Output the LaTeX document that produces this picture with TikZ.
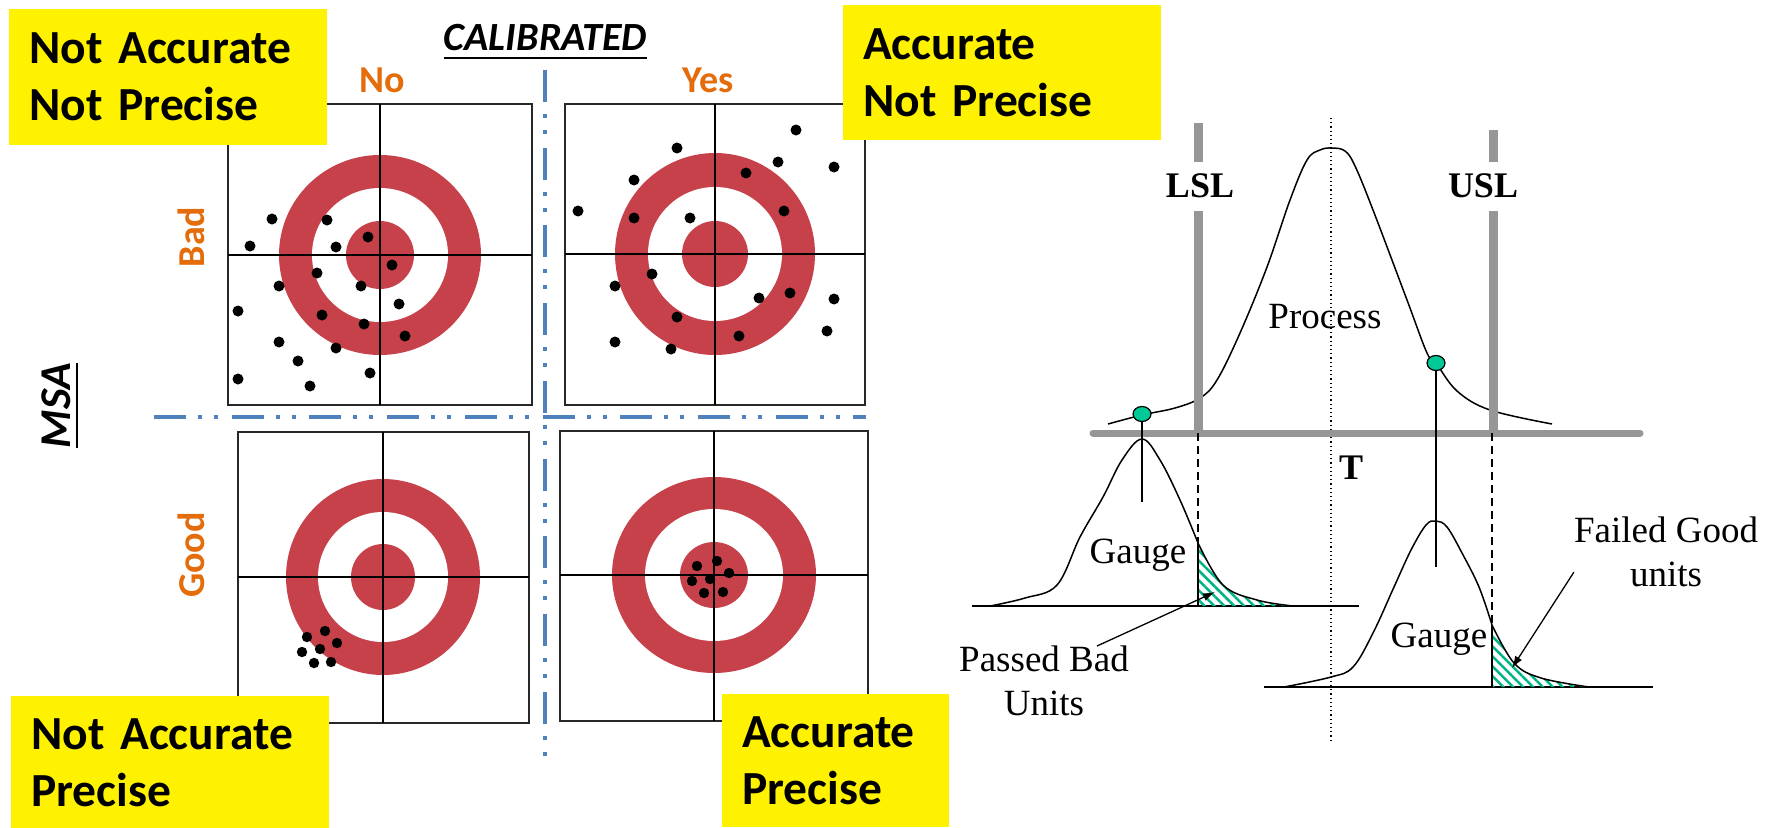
\documentclass[tikz,border=0pt]{standalone}
\usepackage{fontspec}
\newfontfamily\calfont{Carlito}
\newfontfamily\tmsfont{Liberation Serif}
\usetikzlibrary{patterns.meta,arrows.meta}
\definecolor{tred}{RGB}{198,65,74}
\definecolor{torange}{RGB}{228,108,10}
\definecolor{tblue}{RGB}{79,129,189}
\definecolor{tgray}{RGB}{150,150,150}
\definecolor{tgreen}{RGB}{0,200,150}
\definecolor{thatch}{RGB}{0,180,135}
\definecolor{tbox}{RGB}{40,40,40}
\newcommand\mytarget[8]{%
  \fill[tred] (#1,#2) ellipse [x radius=#3, y radius=#4];
  \fill[white] (#1,#2) ellipse [x radius=#5, y radius=#6];
  \fill[tred] (#1,#2) ellipse [x radius=#7, y radius=#8];
}
\tikzset{
  tbframe/.style={draw=tbox, line width=2pt},
  cross/.style={draw=black, line width=1.5pt},
  shot/.style={fill=black},
  dashdot/.style={draw=tblue, line width=3.5pt,
    dash pattern=on 32pt off 12pt on 4pt off 12pt on 4pt off 13.7pt},
  ybox/.style={fill=yellow, anchor=north west, inner xsep=20pt, inner ysep=0pt,
    align=left, font=\calfont\bfseries\fontsize{47.5}{57}\selectfont},
  olbl/.style={text=torange, inner sep=0pt, font=\calfont\bfseries\fontsize{38}{44}\selectfont},
  hlbl/.style={inner sep=0pt, font=\calfont\bfseries\itshape\fontsize{40}{48}\selectfont},
  slbl/.style={inner sep=0pt, font=\tmsfont\bfseries\fontsize{36}{42}\selectfont},
  rlbl/.style={inner sep=0pt, font=\tmsfont\fontsize{37}{44}\selectfont, align=center},
  curve/.style={draw=black, line width=1.5pt, line join=round},
  gbar/.style={draw=tgray, line width=9pt},
  gaxis/.style={draw=tgray, line width=7pt, line cap=round},
  ddash/.style={draw=black, line width=1.5pt, dash pattern=on 8pt off 5pt},
  hatchfill/.style={pattern={Lines[angle=-45,distance=7pt,line width=2.5pt]}, pattern color=thatch},
  gdot/.style={fill=tgreen, draw=black, line width=1.2pt},
  arr/.style={draw=black, line width=1.3pt, -{Latex[length=12pt,width=8pt]}}
}
\begin{document}
\begin{tikzpicture}[x=1pt,y=-1pt]
\useasboundingbox (0,0) rectangle (1776,827);
\fill[white] (0,0) rectangle (1776,827);

% ---------- targets ----------
\mytarget{380}{255}{101}{100}{68}{67}{34}{34}
\draw[tbframe] (227.5,104) rectangle (532,405);
\draw[cross] (380,104) -- (380,405) (227.5,255) -- (532,255);
\foreach \p in {(272,219),(327,220),(250,246),(336,247),(368,237),(392,265),(317,273),(279,286),(361,286),(238,311),(399,304),(322,315),(364,324),(405,336),(279,342),(336,348),(298,361),(238,379),(370,373),(310,386)}
  \fill[shot] \p circle[radius=5.5];

\mytarget{715}{254}{100}{101}{67}{67}{33}{33}
\draw[tbframe] (565,104) rectangle (865,405);
\draw[cross] (715,104) -- (715,405) (565,254) -- (865,254);
\foreach \p in {(796,130),(677,148),(778,162),(834,167),(634,180),(746,173),(578,211),(634,218),(690,218),(784,211),(652,274),(615,286),(790,293),(759,298),(834,299),(677,317),(827,331),(739,336),(615,342),(671,349)}
  \fill[shot] \p circle[radius=5.5];

\mytarget{383}{577}{97}{98}{65}{65}{32}{33}
\draw[tbframe] (237.5,432) rectangle (529,723);
\draw[cross] (383,432) -- (383,723) (237.5,577) -- (529,577);
\foreach \p in {(307,637),(325,631),(337,643),(320,649),(302,652),(314,663),(331,662)}
  \fill[shot] \p circle[radius=5.2];

\mytarget{714}{575}{102}{98}{69}{66}{34}{33}
\draw[tbframe] (560,431) rectangle (868,721);
\draw[cross] (714,431) -- (714,721) (560,575) -- (868,575);
\foreach \p in {(697,566),(717,561),(729,573),(710,579),(692,581),(704,593),(723,592)}
  \fill[shot] \p circle[radius=5.2];

% ---------- dash-dot separators ----------
\draw[dashdot] (545,70) -- (545,756);
\draw[dashdot] (154,417) -- (866,417);

% ---------- headings ----------
\node[hlbl, anchor=base] (cal) at (545.5,50) {CALIBRATED};
\draw[line width=2.5pt] ([yshift=-8pt]cal.base west) -- ([yshift=-8pt]cal.base east);
\node[hlbl, font=\calfont\bfseries\itshape\fontsize{44}{50}\selectfont, rotate=90, anchor=base] (msa) at (70,405.5) {MSA};
\draw[line width=2.5pt] ([xshift=7pt]msa.base west) -- ([xshift=7pt]msa.base east);
\node[olbl, anchor=base] (no) at (382,92) {No};
\node[olbl, anchor=base] (yes) at (708,92) {Yes};
\node[olbl, rotate=90, anchor=base] (bad) at (204,237) {Bad};
\node[olbl, rotate=90, anchor=base] (good) at (204,555) {Good};

% ---------- yellow labels ----------
\node[ybox, text width=278pt, minimum height=136pt] (y1) at (9,9) {Not Accurate\\Not Precise};
\node[ybox, text width=278pt, minimum height=135pt] (y2) at (843,5) {Accurate\\Not Precise};
\node[ybox, text width=278pt, minimum height=133pt] (y3) at (11,696) {Not Accurate\\Precise};
\node[ybox, text width=187pt, minimum height=133pt] (y4) at (722,694) {Accurate\\Precise};

% ---------- right: process / gauge ----------
\draw[line width=1.2pt, dash pattern=on 1.2pt off 3pt] (1331,118) -- (1331,742);
\draw[curve] plot[smooth, tension=0.6] coordinates {(1108,424) (1142,415) (1175,408) (1200,398) (1217,380) (1240,333) (1267,267) (1290,200) (1307,160) (1320,150) (1332,148) (1345,151) (1355,166) (1373,210) (1407,300) (1427,353) (1436,363) (1457,391) (1490,410) (1552,424)};
\draw[gbar] (1198,123) -- (1198,162) (1198,211) -- (1198,433);
\draw[gbar] (1493,130) -- (1493,162) (1493,211) -- (1493,433);
\draw[gaxis] (1093,433) -- (1640,433);
\node[slbl, anchor=base] (lsl) at (1200,197) {LSL};
\node[slbl, anchor=base] (usl) at (1483,197) {USL};
\node[slbl, anchor=base west] (tgt) at (1339,479) {T};
\node[rlbl, anchor=base] (proc) at (1325,328) {Process};

% left gauge
\draw[curve] (972,606) -- (1359,606);
\fill[hatchfill] plot[smooth, tension=0.6] coordinates {(1198,543) (1223,585) (1257,600) (1293,606)} -- (1198,606) -- cycle;
\draw[curve] plot[smooth, tension=0.6] coordinates {(990,606) (1025,598) (1057,585) (1080,537) (1103,497) (1122,460) (1142,439) (1160,460) (1180,500) (1198,543)};
\draw[curve] plot[smooth, tension=0.6] coordinates {(1198,543) (1223,585) (1257,600) (1293,606)};
\draw[curve] (1198,543) -- (1198,606);
\draw[ddash] (1198,433) -- (1198,543);
\draw[curve] (1142,414) -- (1142,502);
\fill[gdot] (1142,414) ellipse [x radius=9, y radius=7.5];
\node[rlbl, anchor=base] (g1) at (1138,563) {Gauge};
\node[rlbl, anchor=north] (pb) at (1044,646) {Passed Bad\\Units};
\coordinate (pbend) at (1215,592);
\draw[arr] ([xshift=53pt]pb.north) -- (pbend);

% right gauge
\draw[curve] (1264,687) -- (1653,687);
\fill[hatchfill] plot[smooth, tension=0.6] coordinates {(1492,625) (1514,663) (1541,678) (1589,687)} -- (1492,687) -- cycle;
\draw[curve] plot[smooth, tension=0.6] coordinates {(1284,687) (1331,677) (1353,667) (1373,633) (1394,587) (1411,550) (1426,525) (1436,521) (1447,527) (1462,553) (1479,587) (1492,625)};
\draw[curve] plot[smooth, tension=0.6] coordinates {(1492,625) (1514,663) (1541,678) (1589,687)};
\draw[curve] (1492,625) -- (1492,687);
\draw[ddash] (1492,433) -- (1492,625);
\draw[curve] (1436,363) -- (1436,567);
\fill[gdot] (1436,363) ellipse [x radius=9, y radius=7.5];
\node[rlbl, anchor=base] (g2) at (1439,647) {Gauge};
\node[rlbl, anchor=north] (fg) at (1666,517) {Failed Good\\units};
\coordinate (fgend) at (1512,668);
\draw[arr] ([yshift=-20pt]fg.west) -- (fgend);
\end{tikzpicture}
\end{document}
